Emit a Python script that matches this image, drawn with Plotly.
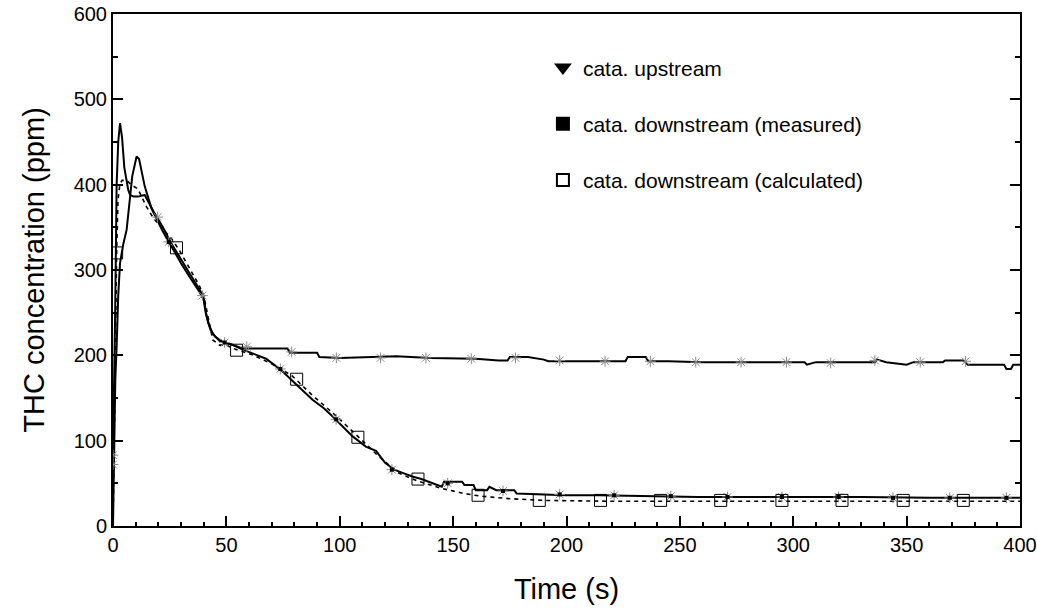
import plotly.graph_objects as go

# upstream of catalyst (solid line, gray asterisk marks)
up_t = [0, 0.5, 1, 1.6, 2.3, 3.1, 4, 5, 6.7, 7.5, 9, 11, 14, 18, 22, 26, 30, 34, 38, 40, 41,
        42, 44, 47, 52, 57, 77, 78, 90, 91, 100, 110, 125, 140, 160, 170, 174, 175, 183, 190,
        192, 226, 227, 235, 236, 245, 260, 280, 305, 306, 310, 336, 337, 341, 350, 353, 366,
        367, 375, 377, 393, 394, 396, 397, 400]
up_v = [80, 150, 260, 400, 450, 472, 455, 420, 394, 388, 386, 386, 388, 368, 350, 330, 312,
        295, 278, 268, 250, 238, 225, 217, 213, 208, 208, 203, 203, 198, 197, 198, 199, 197,
        196, 194, 194, 198, 198, 195, 193, 193, 198, 198, 193, 193, 192, 192, 192, 189, 192,
        192, 195, 192, 189, 192, 192, 194, 194, 189, 189, 184, 184, 189, 189]
up_mark_t = [0, 0, 19.7, 39.4, 59, 78.8, 98.5, 118, 138, 158, 177.5, 197, 217, 237, 257, 277,
             297, 316.5, 336, 356, 376]
up_mark_v = [83, 72, 362, 270, 210, 204, 197, 197, 197, 196, 197, 194, 193, 193, 192, 192,
             192, 191, 194, 192, 193]

# downstream, measured (solid line)
ms_t = [0, 0.5, 1, 1.6, 2.3, 3.1, 4.5, 6, 7, 8.5, 10.4, 11.5, 14, 17, 22, 26, 30, 34, 38, 40,
        41, 43, 45, 48, 53, 57, 62, 67.5, 74, 79, 82, 88, 93, 97, 101, 105.7, 111.5, 116, 120,
        124, 128, 132, 136, 140.7, 145, 146, 149, 154, 155, 159, 160, 165, 166, 169, 177, 178,
        190, 200, 214, 230, 258, 280, 300, 330, 360, 400]
ms_v = [0, 100, 170, 210, 270, 308, 330, 347, 370, 410, 433, 430, 398, 372, 345, 326, 308,
        291, 275, 265, 248, 230, 222, 216, 212, 207, 202, 196, 183, 171, 163, 148, 138, 128,
        117, 105, 93, 88, 74, 66, 62, 58, 55, 50, 46, 52, 52, 52, 48, 48, 42, 42, 46, 42, 42,
        38, 37, 36, 36, 35, 34, 34, 34, 34, 33, 33]
ms_mark_t = [24.6, 49.2, 73.8, 98.4, 123, 147.6, 172, 197, 221, 246, 271, 295, 320, 344, 369,
             394]
ms_mark_v = [333, 215, 184, 125, 66, 50, 41, 37, 36, 35, 34, 34, 34, 33, 33, 33]

# downstream, calculated (dashed line, open squares)
ca_t = [0, 0.5, 1, 1.6, 2.2, 3, 4, 6, 8, 11, 14.8, 18, 22, 26, 29.5, 34, 38, 40, 42, 44, 47,
        50, 54, 62, 70, 79, 88, 98, 108, 117, 126, 134, 145, 155, 162, 175, 190, 220, 260,
        300, 350, 400]
ca_v = [0, 120, 250, 320, 382, 400, 405, 405, 400, 395, 374, 360, 348, 336, 322, 300, 282,
        270, 242, 218, 212, 212, 207, 200, 190, 176, 153, 130, 105, 82, 62, 53, 44, 38, 35,
        32, 30, 29, 29, 29, 29, 29]
ca_mark_t = [1.6, 28, 54.5, 81, 108, 134.5, 161, 188, 215, 241.5, 268, 295, 321.5, 348.5, 375]
ca_mark_v = [320, 326, 206, 172, 104, 55, 36, 30, 30, 30, 30, 30, 30, 30, 30]

legend_names = ['cata. upstream', 'cata. downstream (measured)', 'cata. downstream (calculated)']

fig = go.Figure()

fig.add_trace(go.Scatter(x=up_t, y=up_v, mode='lines', line=dict(color='black', width=2),
                         showlegend=False))
fig.add_trace(go.Scatter(x=ms_t, y=ms_v, mode='lines', line=dict(color='black', width=2),
                         showlegend=False))
fig.add_trace(go.Scatter(x=ca_t, y=ca_v, mode='lines',
                         line=dict(color='black', width=1.6, dash='4px,4px'), showlegend=False))

# marks
fig.add_trace(go.Scatter(x=up_mark_t, y=up_mark_v, mode='markers', showlegend=False,
                         marker=dict(symbol='asterisk-open', size=9, color='#8a8a8a',
                                     line=dict(color='#8a8a8a', width=1))))
fig.add_trace(go.Scatter(x=ms_mark_t, y=ms_mark_v, mode='markers', showlegend=False,
                         marker=dict(symbol='asterisk-open', size=9, color='#8a8a8a',
                                     line=dict(color='#8a8a8a', width=1))))
fig.add_trace(go.Scatter(x=ms_mark_t, y=ms_mark_v, mode='markers', showlegend=False,
                         marker=dict(symbol='square', size=4, color='black')))
fig.add_trace(go.Scatter(x=ca_mark_t, y=ca_mark_v, mode='markers', showlegend=False,
                         marker=dict(symbol='square-open', size=12, color='black',
                                     line=dict(color='black', width=1))))

# legend entries (symbol only, like the original key)
legend_symbols = ['triangle-down', 'square', 'square-open']
for i, (name, sym) in enumerate(zip(legend_names, legend_symbols)):
    fig.add_trace(go.Scatter(x=[None], y=[None], mode='markers', name=name,
                             legendgroup=str(i),
                             marker=dict(symbol=sym, size=15, color='black',
                                         line=dict(color='black', width=1))))

title_font = 'Liberation Sans, Arial, sans-serif'

fig.update_layout(
    width=1037, height=610,
    margin=dict(l=113, r=17, t=14, b=84),
    plot_bgcolor='white', paper_bgcolor='white',
    font=dict(family='Liberation Sans Narrow, Liberation Sans, Arial, sans-serif',
              color='black'),
    legend=dict(x=0.474, y=0.935, xanchor='left', yanchor='top',
                font=dict(size=21, family=title_font),
                bgcolor='rgba(0,0,0,0)', tracegroupgap=26, itemsizing='constant'),
    xaxis=dict(range=[0, 400], dtick=50, showgrid=False, zeroline=False, automargin=False,
               showline=True, linecolor='black', linewidth=2, mirror=True,
               ticks='inside', ticklen=10, tickwidth=1.5, tickcolor='black',
               minor=dict(dtick=10, ticks='inside', ticklen=4, tickcolor='black'),
               tickfont=dict(size=20), ticklabeloverflow='allow',
               title=dict(text='Time (s)', font=dict(size=29, family=title_font),
                          standoff=24)),
    yaxis=dict(range=[0, 600], dtick=100, showgrid=False, zeroline=False, automargin=False,
               showline=True, linecolor='black', linewidth=2, mirror='ticks',
               ticks='inside', ticklen=10, tickwidth=1.5, tickcolor='black',
               minor=dict(dtick=50, ticks='inside', ticklen=5, tickcolor='black'),
               tickfont=dict(size=20), ticklabeloverflow='allow',
               title=dict(text='THC concentration (ppm)', font=dict(size=29, family=title_font),
                          standoff=20)),
)

# drop the default 8px page margin so the figure sits at the window corner
fig.write_html('out.html', config={'displayModeBar': False},
               post_script="document.body.style.margin='0';")
